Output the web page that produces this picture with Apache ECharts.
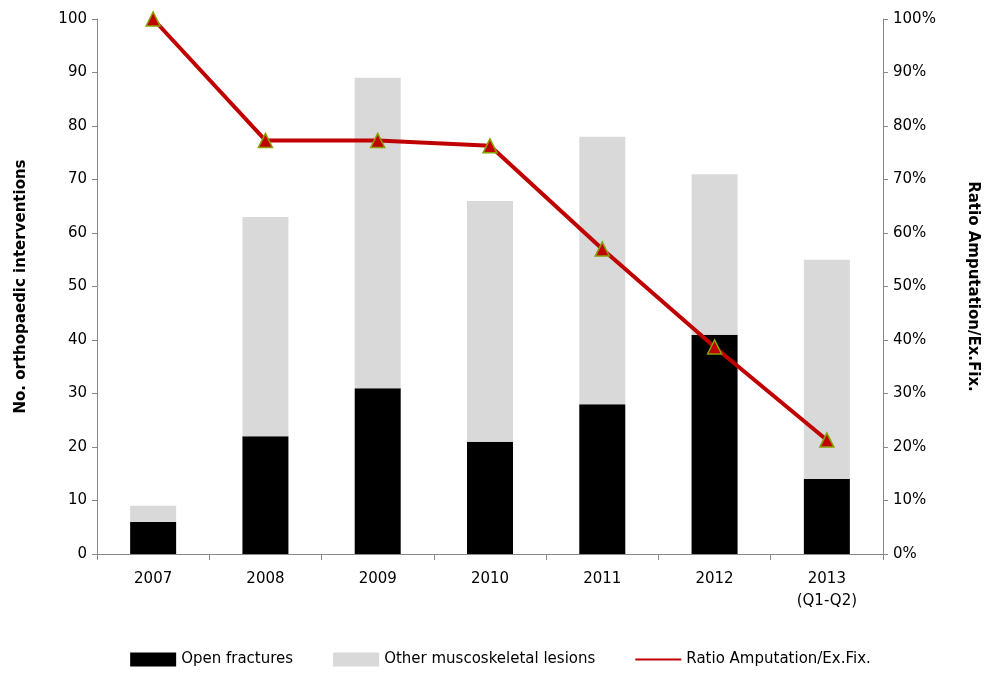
<!DOCTYPE html>
<html><head><meta charset="utf-8">
<script src="https://cdn.jsdelivr.net/npm/echarts@6/dist/echarts.min.js"></script>
<style>html,body{margin:0;padding:0;background:#fff}#c{width:1001px;height:676px}</style>
</head><body><div id="c"></div>
<script>
var categories = ['2007','2008','2009','2010','2011','2012','2013\n(Q1-Q2)'];
var openFractures = [6,22,31,21,28,41,14];
var otherLesions = [3,41,58,45,50,30,41];
var ratio = [100,77.3,77.3,76.3,57,38.7,21.3];
var font = 'DejaVu Sans';
var chart = echarts.init(document.getElementById('c'));
chart.setOption({
  animation:false,
  textStyle:{fontFamily:font},
  grid:{left:97,right:118,top:19,bottom:122},
  legend:{bottom:4,left:'center',itemGap:40,itemWidth:46,itemHeight:14,
    textStyle:{fontSize:15,color:'#000',fontFamily:font},
    data:[{name:'Open fractures',icon:'rect'},{name:'Other muscoskeletal lesions',icon:'rect'},
      {name:'Ratio Amputation/Ex.Fix.',icon:'path://M0,6L46,6L46,8L0,8Z',itemStyle:{color:'#c00000',borderWidth:0}}]},
  xAxis:{type:'category',data:categories,
    axisLine:{lineStyle:{color:'#888'}},axisTick:{show:true,lineStyle:{color:'#888'},length:6},
    axisLabel:{color:'#000',fontSize:15,margin:14,lineHeight:22}},
  yAxis:[
    {type:'value',min:0,max:100,interval:10,name:'No. orthopaedic interventions',nameLocation:'middle',nameGap:68,
      nameTextStyle:{fontWeight:'bold',fontSize:15,color:'#000'},
      splitLine:{show:false},axisLine:{show:true,lineStyle:{color:'#888'}},axisTick:{show:true,lineStyle:{color:'#888'}},
      axisLabel:{color:'#000',fontSize:15,margin:10}},
    {type:'value',min:0,max:100,interval:10,name:'Ratio Amputation/Ex.Fix.',nameLocation:'middle',nameGap:82,nameRotate:-90,
      nameTextStyle:{fontWeight:'bold',fontSize:15,color:'#000'},
      splitLine:{show:false},axisLine:{show:true,lineStyle:{color:'#888'}},axisTick:{show:true,lineStyle:{color:'#888'}},
      axisLabel:{color:'#000',fontSize:15,margin:10,formatter:'{value}%'}}
  ],
  series:[
    {name:'Open fractures',type:'bar',stack:'a',data:openFractures,barWidth:46,itemStyle:{color:'#000'}},
    {name:'Other muscoskeletal lesions',type:'bar',stack:'a',data:otherLesions,itemStyle:{color:'#d9d9d9'}},
    {name:'Ratio Amputation/Ex.Fix.',type:'line',yAxisIndex:1,data:ratio,
      lineStyle:{color:'#c00000',width:4},symbol:'triangle',symbolSize:14,
      itemStyle:{color:'#c00000',borderColor:'#8aa000',borderWidth:1.5}}
  ]
});
</script></body></html>
